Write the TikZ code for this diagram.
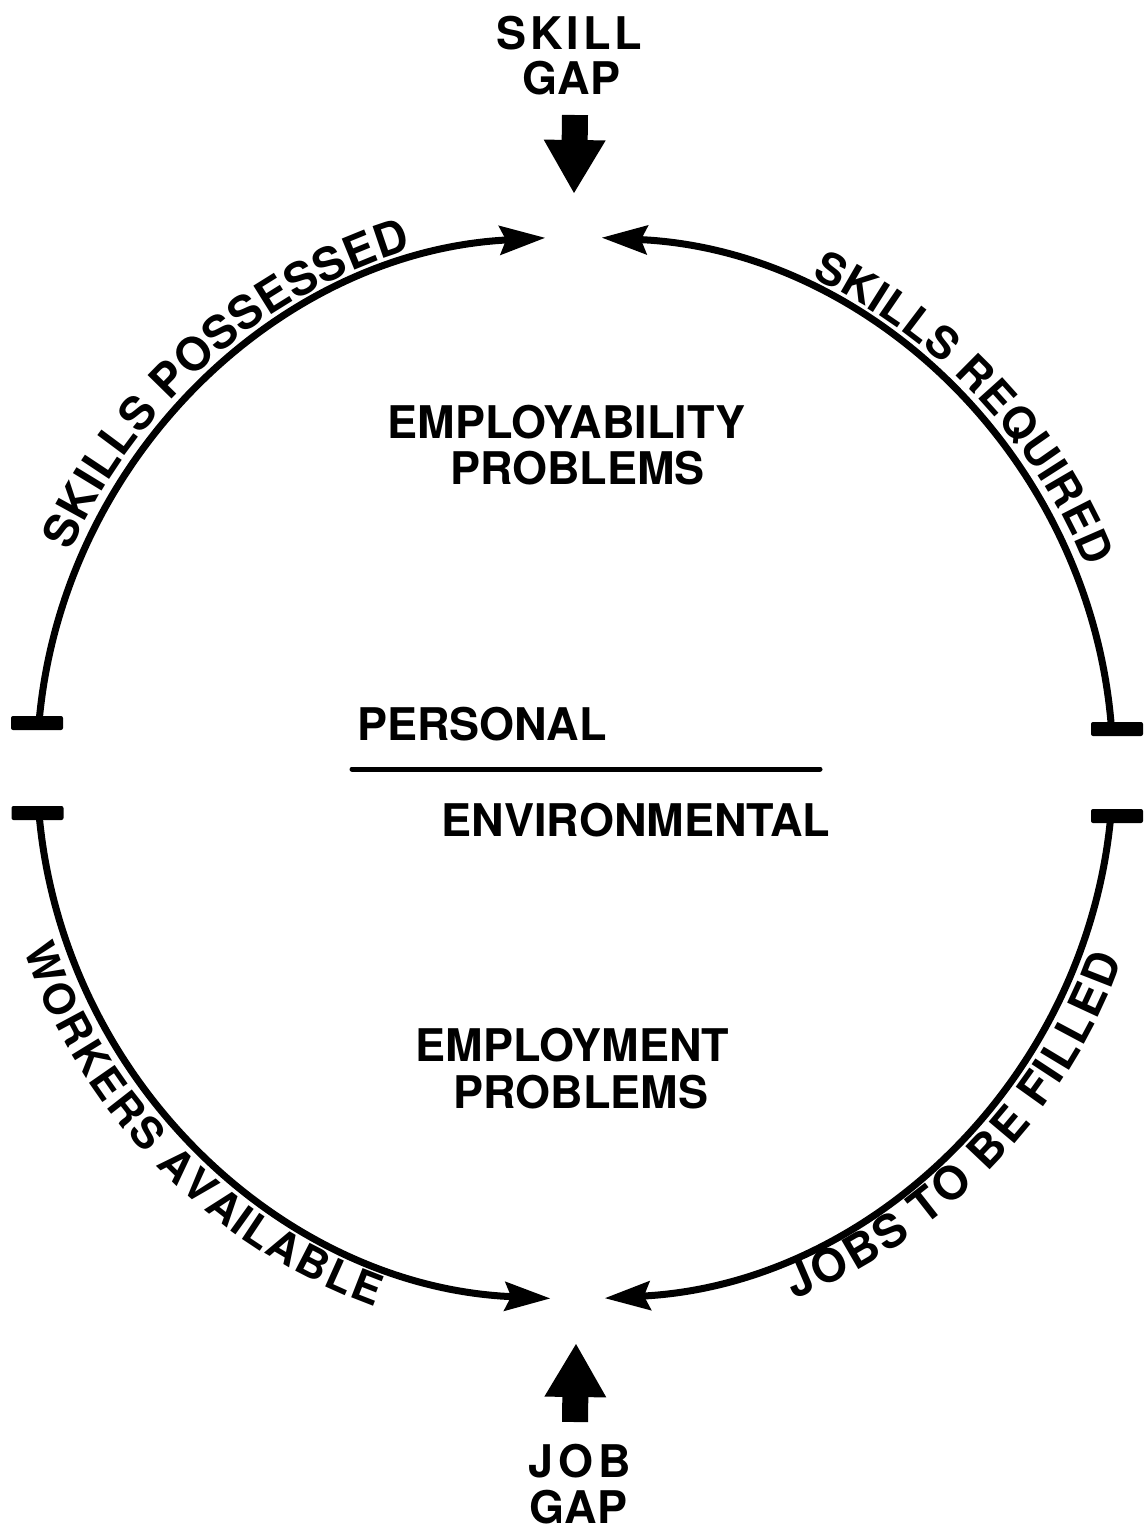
\documentclass[tikz,border=0pt]{standalone}
\usepackage{fontspec}
\setmainfont{TeX Gyre Heros}
\usetikzlibrary{arrows.meta,decorations.text}
\newcommand\lblfont{\bfseries\fontsize{45}{45}\selectfont}
\newcommand\arcfont{\bfseries\fontsize{46}{46}\selectfont}
\newcommand\arcfontmid{\bfseries\fontsize{44}{44}\selectfont}
\newcommand\arcfontsmall{\bfseries\fontsize{43}{43}\selectfont}
\begin{document}
\begin{tikzpicture}[x=1pt,y=1pt,
  flow/.style={line width=7pt,
    -{Stealth[length=46pt,width=30pt,inset=7pt,line width=0pt]}},
  gaparrow/.style={line width=26pt,
    -{Triangle[length=53pt,width=62pt,line width=0pt]}},
  stopbar/.style={fill=black,minimum width=52pt,minimum height=14pt,
    inner sep=0pt,rounded corners=2pt},
  lbl/.style={font=\lblfont,inner sep=0pt,anchor=base},
  divider/.style={line width=5pt,line cap=round},
  outertext/.style={decorate,decoration={text along path,text align=center,
    raise=12pt,text={#1}}},
  innertext/.style={decorate,decoration={text along path,text align=center,
    raise=-43pt,text={#1}}}
]
\useasboundingbox (0,0) rectangle (1144,-1532);
\fill[white] (0,0) rectangle (1144,-1532);

% centre of the loop and the four arc starts
\coordinate (ctr) at (575,-768);
\path (ctr) ++(175.14:538 and 531) coordinate (startTL);
\path (ctr) ++(4.21:538 and 531) coordinate (startTR);
\path (ctr) ++(184.86:538 and 531) coordinate (startBL);
\path (ctr) ++(354.81:538 and 531) coordinate (startBR);

% arcs with arrowheads pointing at the two gaps
\draw[flow] (startTL) arc[start angle=175.14,end angle=93.2,x radius=538,y radius=531];
\draw[flow] (startTR) arc[start angle=4.21,end angle=87.12,x radius=538,y radius=531];
\draw[flow] (startBL) arc[start angle=184.86,end angle=267.34,x radius=538,y radius=531];
\draw[flow] (startBR) arc[start angle=354.81,end angle=273.2,x radius=538,y radius=531];

% labels along the arcs (each centred on its own stretch of the loop)
\path[outertext={|\arcfont|SKILLS POSSESSED}] (ctr) ++(172:538 and 531)
  arc[start angle=172,end angle=92,x radius=538,y radius=531];
\path[outertext={|\arcfontmid|SKILLS REQUIRED}] (ctr) ++(83:538 and 531)
  arc[start angle=83,end angle=3,x radius=538,y radius=531];
\path[innertext={|\arcfontsmall|WORKERS AVAILABLE}] (ctr) ++(184:538 and 531)
  arc[start angle=184,end angle=264,x radius=538,y radius=531];
\path[innertext={|\arcfont|JOBS TO BE FILLED}] (ctr) ++(276.5:538 and 531)
  arc[start angle=276.5,end angle=356.5,x radius=538,y radius=531];

% stop bars at the open ends of the arcs
\node[stopbar] (barTL) at (37,-723) {};
\node[stopbar] (barBL) at (37.5,-813) {};
\node[stopbar] (barTR) at (1117,-729) {};
\node[stopbar] (barBR) at (1117,-816) {};

% gap labels and their heavy arrows
\node[lbl] (skill) at (569.5,-49) {S\kern4pt K\kern4pt I\kern4pt L\kern4pt L};
\node[lbl] (skillgap) at (571.5,-94) {GAP};
\coordinate (sgTail) at (575,-115);
\coordinate (sgTip) at (574,-193);
\draw[gaparrow] (sgTail) -- (sgTip);

\node[lbl] (job) at (580,-1477) {J\kern5pt O\kern5pt B};
\node[lbl] (jobgap) at (578.5,-1523) {GAP};
\coordinate (jgTail) at (575,-1422);
\coordinate (jgTip) at (576,-1344);
\draw[gaparrow] (jgTail) -- (jgTip);

% inner labels
\node[lbl] (emplty) at (566.5,-438) {EMPLOYABILITY};
\node[lbl] (probA) at (577.5,-484) {PROBLEMS};
\node[lbl] (personal) at (482,-740) {PERSONAL};
\coordinate (divL) at (352,-769);
\coordinate (divR) at (820,-769);
\draw[divider] (divL) -- (divR);
\node[lbl] (environ) at (636,-836) {ENVIRONMENTAL};
\node[lbl] (emplmt) at (572.5,-1061) {EMPLOYMENT};
\node[lbl] (probB) at (581,-1108) {PROBLEMS};
\end{tikzpicture}
\end{document}
